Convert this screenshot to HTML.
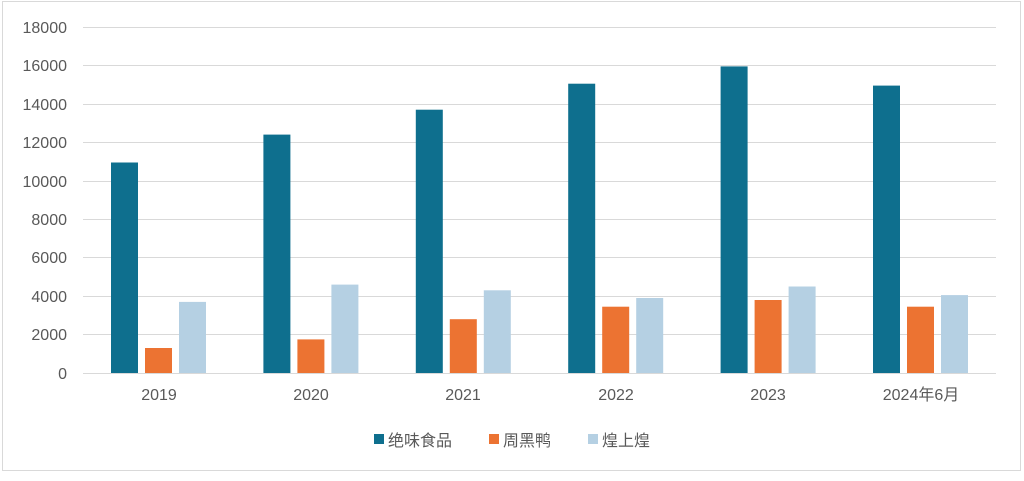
<!DOCTYPE html>
<html><head><meta charset="utf-8"><style>
html,body{margin:0;padding:0;background:#fff;}
svg text{font-family:"Liberation Sans","Noto Sans CJK SC",sans-serif;fill:#595959;}
</style></head><body>
<svg width="1024" height="476" xmlns="http://www.w3.org/2000/svg">
<rect x="2.5" y="1.5" width="1018" height="469" fill="#fff" stroke="#d9d9d9"/>
<g stroke="#d9d9d9" stroke-width="1">
<line x1="83" x2="996" y1="27.5" y2="27.5"/>
<line x1="83" x2="996" y1="65.5" y2="65.5"/>
<line x1="83" x2="996" y1="104.5" y2="104.5"/>
<line x1="83" x2="996" y1="142.5" y2="142.5"/>
<line x1="83" x2="996" y1="181.5" y2="181.5"/>
<line x1="83" x2="996" y1="219.5" y2="219.5"/>
<line x1="83" x2="996" y1="257.5" y2="257.5"/>
<line x1="83" x2="996" y1="296.5" y2="296.5"/>
<line x1="83" x2="996" y1="334.5" y2="334.5"/>
<line x1="83" x2="996" y1="373.5" y2="373.5"/>
</g>
<g font-size="16" text-anchor="end">
<text x="67" y="33">18000</text><text x="67" y="71">16000</text><text x="67" y="110">14000</text>
<text x="67" y="148">12000</text><text x="67" y="187">10000</text><text x="67" y="225">8000</text>
<text x="67" y="263">6000</text><text x="67" y="302">4000</text><text x="67" y="340">2000</text>
<text x="67" y="379">0</text>
</g>
<g fill="#0e6f8e">
<rect x="111" y="162.5" width="27" height="210.5"/>
<rect x="263.4" y="134.6" width="27" height="238.4"/>
<rect x="415.8" y="109.7" width="27" height="263.3"/>
<rect x="568.2" y="83.7" width="27" height="289.3"/>
<rect x="720.6" y="66.4" width="27" height="306.6"/>
<rect x="873" y="85.6" width="27" height="287.4"/>
</g>
<g fill="#ec7332">
<rect x="145" y="348" width="27" height="25"/>
<rect x="297.4" y="339.4" width="27" height="33.6"/>
<rect x="449.8" y="319.2" width="27" height="53.8"/>
<rect x="602.2" y="306.7" width="27" height="66.3"/>
<rect x="754.6" y="300" width="27" height="73"/>
<rect x="907" y="306.7" width="27" height="66.3"/>
</g>
<g fill="#b5d0e3">
<rect x="179" y="301.9" width="27" height="71.1"/>
<rect x="331.4" y="284.6" width="27" height="88.4"/>
<rect x="483.8" y="290.3" width="27" height="82.7"/>
<rect x="636.2" y="298" width="27" height="75"/>
<rect x="788.6" y="286.5" width="27" height="86.5"/>
<rect x="941" y="295.1" width="27" height="77.9"/>
</g>
<g font-size="16" text-anchor="middle">
<text x="159" y="400">2019</text><text x="311" y="400">2020</text><text x="463" y="400">2021</text>
<text x="616" y="400">2022</text><text x="768" y="400">2023</text><text x="921" y="400">2024年6月</text>
</g>
<g font-size="16">
<rect x="374" y="434" width="10" height="10" fill="#0e6f8e"/><text x="388" y="446">绝味食品</text>
<rect x="489" y="434" width="10" height="10" fill="#ec7332"/><text x="503" y="446">周黑鸭</text>
<rect x="588" y="434" width="10" height="10" fill="#b5d0e3"/><text x="602" y="446">煌上煌</text>
</g>
</svg>
</body></html>
